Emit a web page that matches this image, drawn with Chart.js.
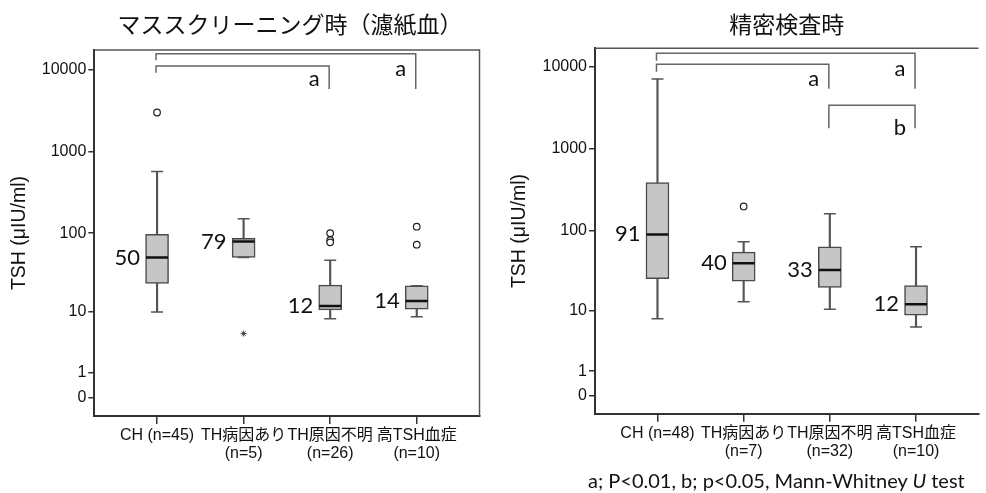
<!DOCTYPE html>
<html lang="ja">
<head>
<meta charset="utf-8">
<title>TSH</title>
<script src="https://cdn.jsdelivr.net/npm/chart.js@4.4.1/dist/chart.umd.min.js"></script>
<style>
  html, body { margin: 0; padding: 0; background: #fff; overflow: hidden; }
  body { width: 986px; height: 493px; position: relative; }
  canvas { position: absolute; top: 0; }
  #left { left: 0; }
  #right { left: 500px; }
  #note { position: absolute; left: 588px; top: 468px; font: 20px Lato, sans-serif; color: #111; white-space: nowrap; }
</style>
</head>
<body>
<canvas id="left" width="493" height="493"></canvas>
<canvas id="right" width="492" height="493"></canvas>
<div id="note">a; P&lt;0.01, b; p&lt;0.05, Mann-Whitney <i>U</i> test</div>
<script>
const categories = ['CH', 'TH病因あり', 'TH原因不明', '高TSH血症'];
const yTicks = [0, 1, 10, 100, 1000, 10000];

// マススクリーニング時（濾紙血）
const screenN = [45, 5, 26, 10];
const screenLow = [10, 50, 8.1, 8.6];
const screenQ1 = [23.5, 50, 10.7, 10.9];
const screenMedian = [50, 79, 12, 14];
const screenQ3 = [97, 86, 22.4, 22];
const screenHigh = [570, 150, 46, 22];
const screenOutliers = [[3000], [], [100, 82, 77], [120, 72]];
const screenExtremes = [[], [5], [], []];

// 精密検査時
const confirmN = [48, 7, 32, 10];
const confirmLow = [7.7, 13, 10.3, 5.9];
const confirmQ1 = [25.6, 23.8, 19.9, 8.6];
const confirmMedian = [91, 40, 33, 12];
const confirmQ3 = [390, 55, 64, 21];
const confirmHigh = [7100, 74, 163, 64];
const confirmOutliers = [[], [200], [], []];
const confirmExtremes = [[], [], [], []];

// significance brackets, levels in log10(x+1) units
const screenBrackets = [
  { from: 0, to: 3, top: 4.193, leftEnd: 4.115, rightEnd: 3.765, label: 'a', labelAt: 4.013 },
  { from: 0, to: 2, top: 4.046, leftEnd: 3.961, rightEnd: 3.765, label: 'a', labelAt: 3.891 }
];
const confirmBrackets = [
  { from: 0, to: 3, top: 4.164, leftEnd: 4.074, rightEnd: 3.734, label: 'a', labelAt: 3.973 },
  { from: 0, to: 2, top: 4.030, leftEnd: 3.940, rightEnd: 3.734, label: 'a', labelAt: 3.852 },
  { from: 2, to: 3, top: 3.532, leftEnd: 3.253, rightEnd: 3.253, label: 'b', labelAt: 3.256 }
];

const T = v => Math.log10(v + 1);

const SANS = '"Liberation Sans", "Noto Sans CJK JP", sans-serif';
const LABEL_FONT = '22px Lato, sans-serif';

const panelDecor = {
  id: 'panelDecor',
  afterDatasetsDraw(chart, args, opts) {
    const { ctx, chartArea: a, scales: { x, y } } = chart;
    ctx.save();
    // frame top / right
    ctx.strokeStyle = '#555';
    ctx.lineWidth = 1.5;
    ctx.beginPath();
    ctx.moveTo(a.left, a.top);
    ctx.lineTo(a.right, a.top);
    if (opts.rightBorder) ctx.lineTo(a.right, a.bottom);
    ctx.stroke();

    // brackets
    ctx.strokeStyle = '#666';
    ctx.lineWidth = 1.5;
    ctx.fillStyle = '#111';
    ctx.font = LABEL_FONT;
    ctx.textAlign = 'center';
    ctx.textBaseline = 'middle';
    opts.brackets.forEach(b => {
      const x0 = x.getPixelForValue(b.from) - 1;
      const x1 = x.getPixelForValue(b.to) - 1;
      ctx.beginPath();
      ctx.moveTo(x0, y.getPixelForValue(b.leftEnd));
      ctx.lineTo(x0, y.getPixelForValue(b.top));
      ctx.lineTo(x1, y.getPixelForValue(b.top));
      ctx.lineTo(x1, y.getPixelForValue(b.rightEnd));
      ctx.stroke();
      ctx.fillText(b.label, x1 - 15, y.getPixelForValue(b.labelAt));
    });

    // median values beside each box
    ctx.textAlign = 'right';
    opts.medians.forEach((m, i) => {
      ctx.fillText(String(m), x.getPixelForValue(i) - 17, y.getPixelForValue(T(m)));
    });

    // panel title
    ctx.font = '23px "Noto Sans CJK JP", sans-serif';
    ctx.textAlign = 'center';
    ctx.fillText(opts.title, (a.left + a.right) / 2 + opts.titleShift, 24);
    ctx.restore();
  }
};

function buildChart(id, cfg) {
  const xLabels = categories.map((c, i) => i === 0 ? `${c} (n=${cfg.n[i]})` : [c, `(n=${cfg.n[i]})`]);
  const idx = categories.map((_, i) => i);
  const flat = list => list.flatMap((vals, i) => vals.map(v => ({ x: i, y: T(v) })));

  return new Chart(document.getElementById(id), {
    type: 'bar',
    data: {
      datasets: [
        {
          // whisker stems
          type: 'bar', order: 6, grouped: false,
          data: idx.map(i => ({ x: i, y: [T(cfg.low[i]), T(cfg.high[i])] })),
          barThickness: 1.5, backgroundColor: '#555', borderWidth: 0
        },
        {
          // interquartile boxes
          type: 'bar', order: 5, grouped: false,
          data: idx.map(i => ({ x: i, y: [T(cfg.q1[i]), T(cfg.q3[i])] })),
          barThickness: 23, backgroundColor: '#c6c6c6', borderColor: '#4a4a4a',
          borderWidth: 1.5, borderSkipped: false
        },
        {
          // whisker caps
          type: 'line', order: 4, showLine: false,
          data: idx.flatMap(i => [{ x: i, y: T(cfg.low[i]) }, { x: i, y: T(cfg.high[i]) }]),
          pointStyle: 'line', pointRadius: 6, pointBorderColor: '#555', pointBorderWidth: 1.5
        },
        {
          // medians
          type: 'line', order: 2, showLine: false,
          data: idx.map(i => ({ x: i, y: T(cfg.median[i]) })),
          pointStyle: 'line', pointRadius: 11, pointBorderColor: '#111', pointBorderWidth: 2.5
        },
        {
          // outliers
          type: 'line', order: 1, showLine: false,
          data: flat(cfg.outliers),
          pointStyle: 'circle', pointRadius: 3.3, pointBackgroundColor: '#fff',
          pointBorderColor: '#222', pointBorderWidth: 1.2
        },
        {
          // extremes
          type: 'line', order: 1, showLine: false,
          data: flat(cfg.extremes),
          pointStyle: 'star', pointRadius: 3, pointBorderColor: '#333', pointBorderWidth: 0.9
        }
      ]
    },
    options: {
      responsive: false,
      animation: false,
      events: [],
      layout: { padding: cfg.padding },
      plugins: {
        legend: { display: false },
        tooltip: { enabled: false },
        panelDecor: {
          title: cfg.title, titleShift: cfg.titleShift, brackets: cfg.brackets,
          medians: cfg.median, rightBorder: cfg.rightBorder
        }
      },
      scales: {
        x: {
          type: 'linear', min: -0.725, max: 3.725, offset: false,
          afterFit: s => { s.height = cfg.xHeight; },
          afterBuildTicks: s => { s.ticks = idx.map(i => ({ value: i })); },
          ticks: {
            callback: (v, i) => xLabels[i], autoSkip: false, maxRotation: 0,
            font: { family: SANS, size: 16, lineHeight: 1.1 }, color: '#111', padding: 3
          },
          grid: { offset: false, drawOnChartArea: false, tickLength: 8, color: '#333', lineWidth: 1.5 },
          border: { color: '#333', width: 2 }
        },
        y: {
          type: 'linear', min: cfg.yMin, max: cfg.yMax,
          afterFit: s => { s.width = cfg.yWidth; },
          afterBuildTicks: s => { s.ticks = yTicks.map(v => ({ value: T(v) })); },
          ticks: {
            callback: (v, i) => String(yTicks[i]), autoSkip: false,
            font: { family: SANS, size: 16 }, color: '#111', padding: 2
          },
          grid: { drawOnChartArea: false, tickLength: 6, color: '#333', lineWidth: 1.5 },
          border: { color: '#333', width: 2 },
          title: {
            display: true, text: 'TSH (μIU/ml)', color: '#111',
            font: { family: SANS, size: 19.5 }, padding: { top: 8, bottom: 0 }
          }
        }
      }
    },
    plugins: [panelDecor]
  });
}

buildChart('left', {
  title: 'マススクリーニング時（濾紙血）', titleShift: 3,
  n: screenN, low: screenLow, q1: screenQ1, median: screenMedian, q3: screenQ3, high: screenHigh,
  outliers: screenOutliers, extremes: screenExtremes, brackets: screenBrackets,
  padding: { top: 50, left: 0, right: 4.7, bottom: 0 },
  yWidth: 94.3, xHeight: 77, yMin: -0.228, yMax: 4.24, rightBorder: true
});

buildChart('right', {
  title: '精密検査時', titleShift: 0,
  n: confirmN, low: confirmLow, q1: confirmQ1, median: confirmMedian, q3: confirmQ3, high: confirmHigh,
  outliers: confirmOutliers, extremes: confirmExtremes, brackets: confirmBrackets,
  padding: { top: 48.3, left: 0, right: 3, bottom: 0 },
  yWidth: 95, xHeight: 79.3, yMin: -0.215, yMax: 4.225, rightBorder: false
});
</script>
</body>
</html>
